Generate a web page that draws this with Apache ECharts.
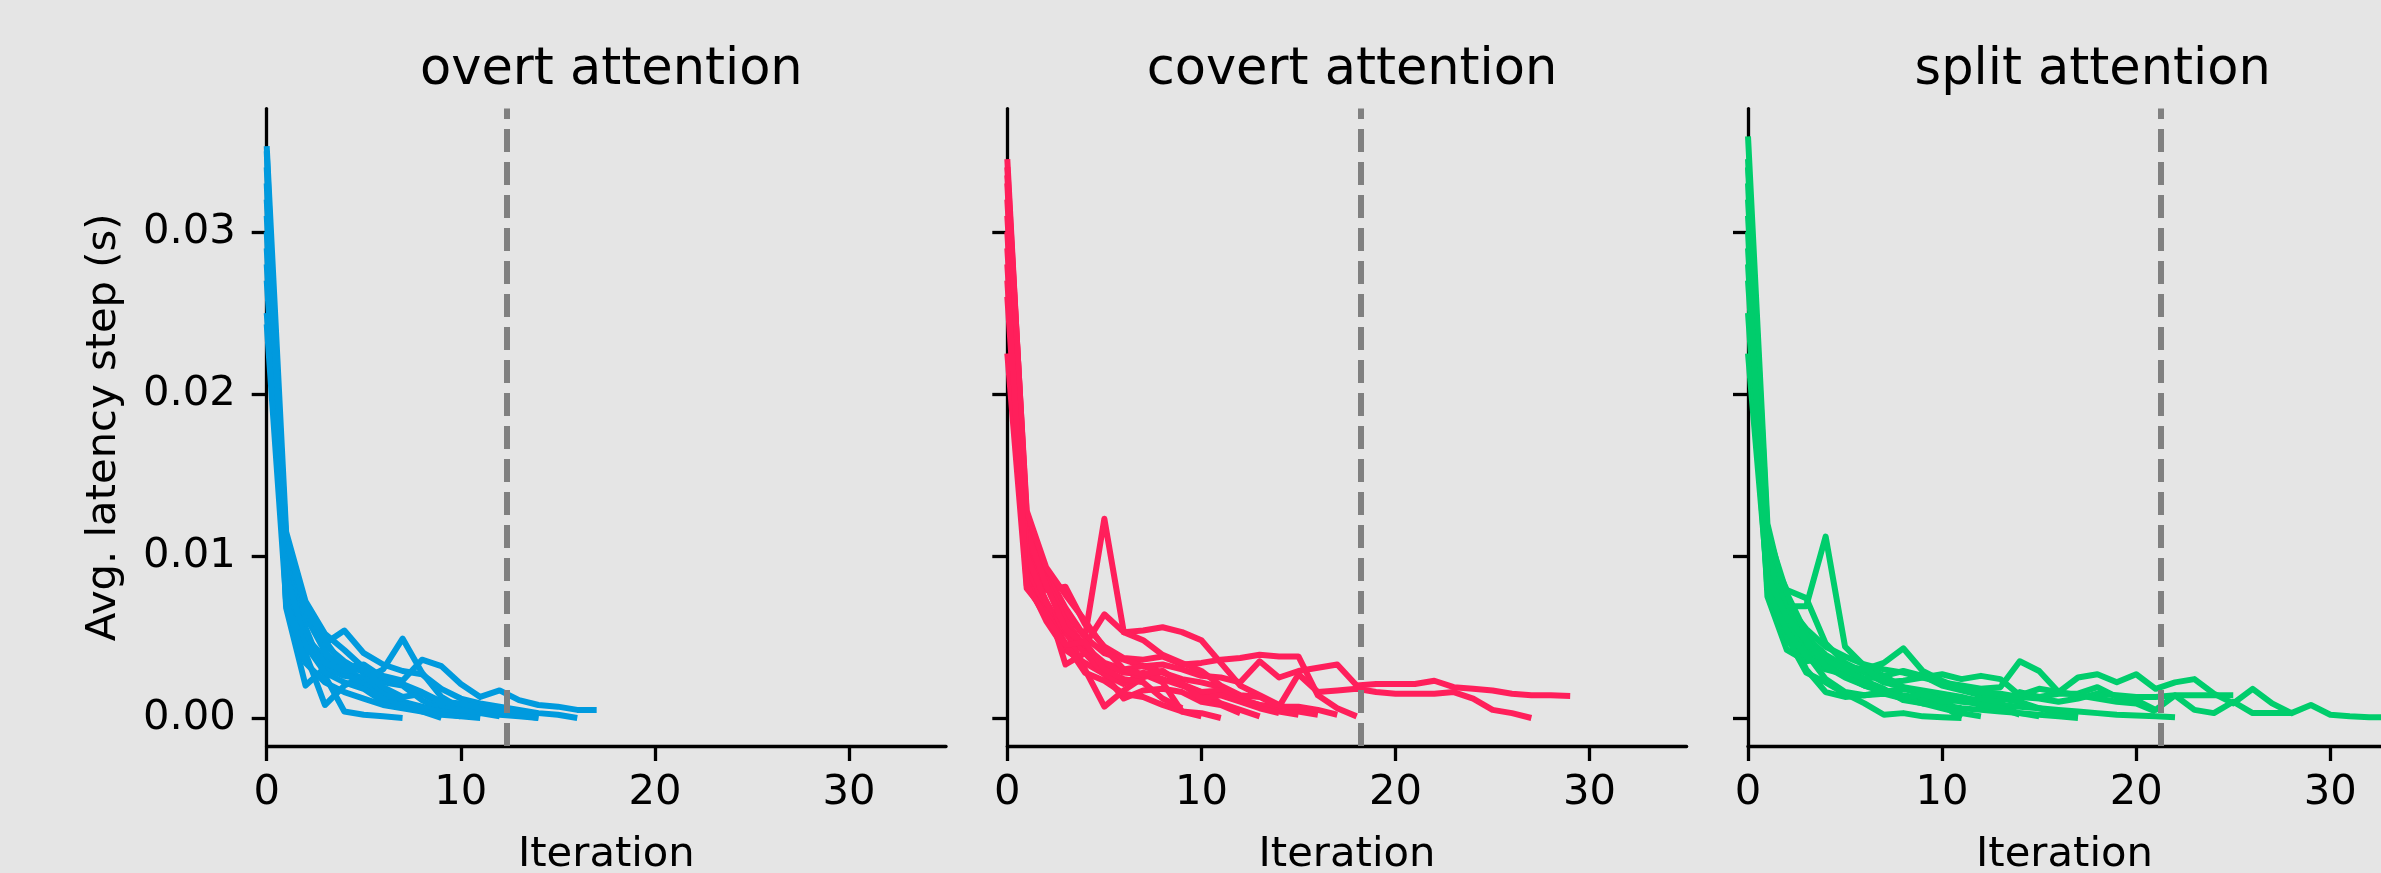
<!DOCTYPE html>
<html>
<head>
<meta charset="utf-8">
<script src="https://cdn.jsdelivr.net/npm/echarts@6/dist/echarts.min.js"></script>
<style>
html,body{margin:0;padding:0;background:#e5e5e5;}
#chart{width:2381px;height:873px;}
</style>
</head>
<body>
<div id="chart"></div>
<script>
// ---- data (avg latency per step, seconds; index = iteration) ----
const panelTitles = ['overt attention', 'covert attention', 'split attention'];
const thresholds = [12.37, 18.21, 21.27];
const yTicks = [0, 0.01, 0.02, 0.03];
const xTicks = [0, 10, 20, 30];

const overtRuns = [
  [0.0353, 0.0115, 0.0072, 0.0052, 0.0042, 0.0031, 0.0026, 0.0023, 0.0036, 0.0032, 0.0021, 0.0013, 0.0017, 0.0011, 0.0008, 0.0007, 0.0005, 0.0005],
  [0.0310, 0.0098, 0.0062, 0.0046, 0.0054, 0.0040, 0.0033, 0.0029, 0.0027, 0.0018, 0.0012, 0.0009, 0.0007, 0.0005, 0.0003, 0.0002, 0.0000],
  [0.0280, 0.0086, 0.0050, 0.0037, 0.0030, 0.0024, 0.0030, 0.0049, 0.0028, 0.0013, 0.0006, 0.0004, 0.0002, 0.0001, 0.0000],
  [0.0330, 0.0068, 0.0020, 0.0031, 0.0026, 0.0024, 0.0015, 0.0010, 0.0007, 0.0004, 0.0003, 0.0001],
  [0.0300, 0.0080, 0.0040, 0.0008, 0.0020, 0.0026, 0.0016, 0.0010, 0.0006, 0.0003, 0.0001],
  [0.0270, 0.0092, 0.0056, 0.0026, 0.0004, 0.0002, 0.0001, 0.0000],
  [0.0250, 0.0101, 0.0063, 0.0041, 0.0028, 0.0020, 0.0012, 0.0008, 0.0004, 0.0000],
  [0.0340, 0.0106, 0.0066, 0.0045, 0.0035, 0.0028, 0.0022, 0.0020, 0.0011, 0.0005, 0.0001],
  [0.0290, 0.0088, 0.0048, 0.0034, 0.0029, 0.0030, 0.0019, 0.0013, 0.0015, 0.0008, 0.0005, 0.0003, 0.0001],
  [0.0320, 0.0110, 0.0069, 0.0048, 0.0031, 0.0033, 0.0025, 0.0021, 0.0016, 0.0010, 0.0009, 0.0006, 0.0004, 0.0002, 0.0000],
  [0.0350, 0.0070, 0.0045, 0.0028, 0.0022, 0.0018, 0.0010, 0.0008, 0.0006, 0.0004, 0.0002],
  [0.0243, 0.0072, 0.0034, 0.0022, 0.0016, 0.0012, 0.0008, 0.0006, 0.0004, 0.0002, 0.0001, 0.0000]
];

const covertRuns = [
  [0.0345, 0.0120, 0.0090, 0.0068, 0.0050, 0.0123, 0.0053, 0.0054, 0.0056, 0.0053, 0.0048, 0.0034, 0.0020, 0.0014, 0.0008, 0.0004, 0.0002],
  [0.0330, 0.0105, 0.0079, 0.0081, 0.0058, 0.0044, 0.0037, 0.0036, 0.0038, 0.0033, 0.0034, 0.0036, 0.0037, 0.0039, 0.0038, 0.0038, 0.0014, 0.0006, 0.0001],
  [0.0340, 0.0125, 0.0088, 0.0065, 0.0050, 0.0040, 0.0036, 0.0032, 0.0033, 0.0030, 0.0026, 0.0025, 0.0022, 0.0035, 0.0025, 0.0029, 0.0031, 0.0033, 0.0020, 0.0021, 0.0021, 0.0021, 0.0023, 0.0019, 0.0018, 0.0017, 0.0015, 0.0014, 0.0014, 0.00136],
  [0.0310, 0.0110, 0.0085, 0.0060, 0.0044, 0.0034, 0.0030, 0.0032, 0.0028, 0.0024, 0.0022, 0.0019, 0.0012, 0.0008, 0.0007, 0.0027, 0.0016, 0.0017, 0.0018, 0.0016, 0.0015, 0.0015, 0.0015, 0.0016, 0.0012, 0.0005, 0.0003, 0.0000],
  [0.0300, 0.0095, 0.0072, 0.0052, 0.0040, 0.0033, 0.0028, 0.0027, 0.0022, 0.0004, 0.0003, 0.0000],
  [0.0280, 0.0090, 0.0066, 0.0054, 0.0030, 0.0007, 0.0017, 0.0025, 0.0029, 0.0021, 0.0016, 0.0009, 0.0005, 0.0001],
  [0.0320, 0.0115, 0.0082, 0.0055, 0.0045, 0.0064, 0.0053, 0.0048, 0.0039, 0.0034, 0.0029, 0.0020, 0.0014, 0.0013, 0.0007, 0.0007, 0.0005, 0.0002],
  [0.0260, 0.0085, 0.0060, 0.0042, 0.0034, 0.0027, 0.0012, 0.0017, 0.0018, 0.0016, 0.0010, 0.0008, 0.0003],
  [0.0290, 0.0100, 0.0072, 0.0033, 0.0040, 0.0027, 0.0021, 0.0028, 0.0024, 0.0020, 0.0016, 0.0017, 0.0011, 0.0008, 0.0004, 0.0002],
  [0.0225, 0.0080, 0.0065, 0.0046, 0.0028, 0.0023, 0.0015, 0.0013, 0.0008, 0.0004, 0.0001],
  [0.0335, 0.0128, 0.0093, 0.0076, 0.0060, 0.0043, 0.0030, 0.0027, 0.0029, 0.0021, 0.0012, 0.0014, 0.0010, 0.0006, 0.0003],
  [0.0270, 0.0082, 0.0062, 0.0045, 0.0047, 0.0030, 0.0024, 0.0022, 0.0012, 0.0006]
];

const splitRuns = [
  [0.0359, 0.0120, 0.0070, 0.0055, 0.0044, 0.0038, 0.0033, 0.0030, 0.0028, 0.0025, 0.0022, 0.0020, 0.0018, 0.0019, 0.0035, 0.0029, 0.0016, 0.0025, 0.0027, 0.0022, 0.0027, 0.0018, 0.0022, 0.0024, 0.0015, 0.0009, 0.0018, 0.0009, 0.0003, 0.0008, 0.0002, 0.0001, 0.00005, 0.00003, 0.0000],
  [0.0330, 0.0090, 0.0069, 0.0069, 0.0112, 0.0044, 0.0032, 0.0026, 0.0029, 0.0026, 0.0020, 0.0017, 0.0014, 0.0012, 0.0010, 0.0006, 0.0003, 0.0001],
  [0.0340, 0.0105, 0.0079, 0.0074, 0.0046, 0.0034, 0.0028, 0.0022, 0.0019, 0.0017, 0.0015, 0.0013, 0.0010, 0.0006, 0.0002],
  [0.0300, 0.0075, 0.0042, 0.0035, 0.0037, 0.0032, 0.0024, 0.0026, 0.0019, 0.0014, 0.0008, 0.0000],
  [0.0320, 0.0110, 0.0065, 0.0050, 0.0039, 0.0032, 0.0030, 0.0034, 0.0043, 0.0029, 0.0023, 0.0018, 0.0016, 0.0015, 0.0013, 0.0012, 0.0010, 0.0012, 0.0015, 0.0014, 0.0013, 0.0013, 0.0014, 0.0014, 0.0014, 0.0014],
  [0.0270, 0.0095, 0.0055, 0.0030, 0.0016, 0.0013, 0.0014, 0.0016, 0.0018, 0.0015, 0.0013, 0.0010, 0.0009, 0.0008, 0.0007, 0.0006, 0.0005, 0.0004, 0.0003, 0.0002, 0.00015, 0.0001, 0.00004],
  [0.0310, 0.0100, 0.0060, 0.0043, 0.0033, 0.0026, 0.0020, 0.0017, 0.0014, 0.0012, 0.0013, 0.0012, 0.0011, 0.0010, 0.0016, 0.0013, 0.0015, 0.0015, 0.0019, 0.0013, 0.0011, 0.0005, 0.0014, 0.0005, 0.0003, 0.0010, 0.0003, 0.0003, 0.0003],
  [0.0225, 0.0085, 0.0050, 0.0028, 0.0022, 0.0015, 0.0009, 0.0002, 0.0003, 0.0001, 0.00005, 0.0000],
  [0.0290, 0.0090, 0.0058, 0.0040, 0.0024, 0.0016, 0.0014, 0.0015, 0.0012, 0.0009, 0.0008, 0.0006, 0.0005, 0.0004, 0.0003, 0.0002, 0.0001, 0.0000],
  [0.0250, 0.0080, 0.0054, 0.0038, 0.0030, 0.0027, 0.0031, 0.0022, 0.0023, 0.0025, 0.0027, 0.0024, 0.0026, 0.0024, 0.0014, 0.0018, 0.0016, 0.0014, 0.0012, 0.0010, 0.0009, 0.0004],
  [0.0345, 0.0115, 0.0077, 0.0052, 0.0036, 0.0030, 0.0023, 0.0018, 0.0011, 0.0009, 0.0006, 0.0003, 0.0001],
  [0.0280, 0.0088, 0.0062, 0.0048, 0.0032, 0.0025, 0.0020, 0.0016, 0.0012, 0.0015, 0.0010, 0.0011, 0.0008, 0.0006, 0.0003, 0.0001]
];

const panelRuns = [overtRuns, covertRuns, splitRuns];
const panelColors = ['#009ADE', '#FF1F5B', '#00CD6C'];
const xMax = [35, 35, 32.61];   // third panel is cut by the figure edge

// ---- layout ----
const FONT = 'DejaVu Sans';
const gridLeft = [266.7, 1007.3, 1748];
const pxPerIter = 19.41;
const gridTop = 108.6;
const gridHeight = 637.4;

const chart = echarts.init(document.getElementById('chart'), null, {renderer: 'canvas'});

const grids = [], xAxes = [], yAxes = [], series = [], titles = [];
for (let p = 0; p < 3; p++) {
  const w = xMax[p] * pxPerIter;
  grids.push({left: gridLeft[p], top: gridTop, width: w, height: gridHeight,
    containLabel: false, outerBoundsMode: 'none'});
  xAxes.push({
    type: 'value', gridIndex: p, min: 0, max: xMax[p],
    name: 'Iteration', nameLocation: 'middle', nameGap: 88,
    nameTextStyle: {fontFamily: FONT, fontSize: 41.7, color: '#000'},
    axisLine: {show: true, onZero: false, lineStyle: {color: '#000', width: 3.3}},
    axisTick: {show: true, length: 15, customValues: xTicks, lineStyle: {color: '#000', width: 3.3}},
    axisLabel: {show: true, margin: 26, customValues: xTicks, fontFamily: FONT, fontSize: 41.7, color: '#000'},
    splitLine: {show: false}
  });
  yAxes.push({
    type: 'value', gridIndex: p, min: -0.00173, max: 0.03762,
    name: p === 0 ? 'Avg. latency step (s)' : '', nameLocation: 'middle', nameGap: 142,
    nameTextStyle: {fontFamily: FONT, fontSize: 41.7, color: '#000'},
    axisLine: {show: true, onZero: false, lineStyle: {color: '#000', width: 3.3}},
    axisTick: {show: true, length: 15, customValues: yTicks, lineStyle: {color: '#000', width: 3.3}},
    axisLabel: {show: p === 0, margin: 31, customValues: yTicks, fontFamily: FONT, fontSize: 41.7, color: '#000',
      formatter: v => v.toFixed(2)},
    splitLine: {show: false}
  });
  titles.push({
    text: panelTitles[p], left: gridLeft[p] + 35 * pxPerIter / 2, top: 40, textAlign: 'center',
    textStyle: {fontFamily: FONT, fontSize: 51, fontWeight: 'normal', color: '#000'}
  });
  panelRuns[p].forEach(run => {
    series.push({
      type: 'line', xAxisIndex: p, yAxisIndex: p,
      data: run.map((v, i) => [i, v]),
      showSymbol: false, symbol: 'none', smooth: false, clip: true,
      lineStyle: {color: panelColors[p], width: 6, join: 'round', cap: 'butt'},
      emphasis: {disabled: true}, silent: true, z: 2
    });
  });
  series.push({
    type: 'line', xAxisIndex: p, yAxisIndex: p, data: [], z: 5, silent: true,
    markLine: {
      symbol: 'none', silent: true, animation: false,
      label: {show: false},
      lineStyle: {color: '#808080', width: 6, type: [23, 10]},
      data: [{xAxis: thresholds[p]}]
    }
  });
}

chart.setOption({
  backgroundColor: '#e5e5e5',
  animation: false,
  title: titles,
  grid: grids,
  xAxis: xAxes,
  yAxis: yAxes,
  series: series
});
</script>
</body>
</html>
